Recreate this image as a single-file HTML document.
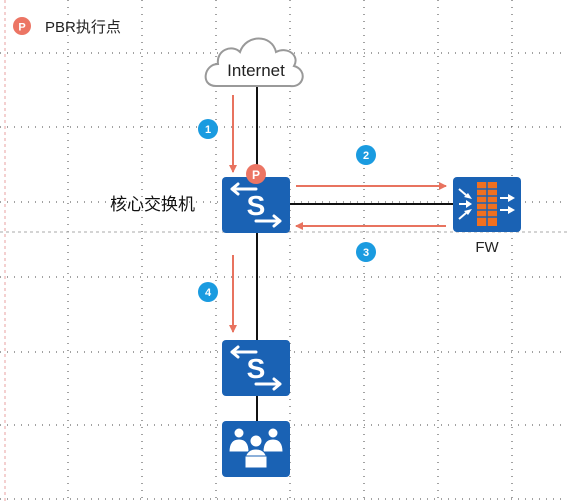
<!DOCTYPE html>
<html><head><meta charset="utf-8"><style>
html,body{margin:0;padding:0;background:#fff;}
svg{display:block;font-family:"Liberation Sans","Noto Sans CJK SC",sans-serif;}
</style></head><body>
<svg width="567" height="502" viewBox="0 0 567 502" xmlns="http://www.w3.org/2000/svg">
<defs>
<marker id="ar" markerWidth="8" markerHeight="8" refX="7" refY="4" orient="auto" markerUnits="userSpaceOnUse"><path d="M0,0 L8,4 L0,8 z" fill="#e8735f"/></marker>
<g id="sw">
<rect x="0" y="0" width="68" height="56" rx="4" fill="#1a62b4"/>
<path d="M10,12 H34 M10,12 l6,-5 M10,12 l6,5" stroke="#fff" stroke-width="3" fill="none" stroke-linecap="round"/>
<path d="M58,44 H34 M58,44 l-6,-5 M58,44 l-6,5" stroke="#fff" stroke-width="3" fill="none" stroke-linecap="round"/>
<text x="34" y="38" font-size="28" font-weight="bold" fill="#fff" text-anchor="middle">S</text>
</g>
</defs>
<!-- grid -->
<g stroke="#444" stroke-width="1" stroke-dasharray="1,6">
<line x1="68" y1="0" x2="68" y2="502"/><line x1="142" y1="0" x2="142" y2="502"/><line x1="216" y1="0" x2="216" y2="502"/><line x1="290" y1="0" x2="290" y2="502"/><line x1="364" y1="0" x2="364" y2="502"/><line x1="438" y1="0" x2="438" y2="502"/><line x1="512" y1="0" x2="512" y2="502"/>
<line x1="0" y1="53" x2="567" y2="53"/><line x1="0" y1="127" x2="567" y2="127"/><line x1="0" y1="202" x2="567" y2="202"/><line x1="0" y1="277" x2="567" y2="277"/><line x1="0" y1="352" x2="567" y2="352"/><line x1="0" y1="425" x2="567" y2="425"/><line x1="0" y1="499" x2="567" y2="499"/>
</g>
<line x1="5" y1="0" x2="5" y2="502" stroke="#e8a0a0" stroke-dasharray="3,3"/>
<line x1="0" y1="232" x2="567" y2="232" stroke="#aaa" stroke-dasharray="3,3"/>
<!-- legend -->
<circle cx="22" cy="26" r="9" fill="#ec7564"/><text x="22" y="30.5" font-size="11" font-weight="bold" fill="#fff" text-anchor="middle">P</text>
<text x="45" y="32" font-size="15" fill="#222">PBR执行点</text>
<!-- lines -->
<line x1="257" y1="85" x2="257" y2="421" stroke="#111" stroke-width="2"/>
<line x1="290" y1="204" x2="453" y2="204" stroke="#111" stroke-width="2"/>
<!-- cloud -->
<path d="M216,86 C200,86 204,64 218,64 C216,50 232,44 240,52 C246,34 272,34 276,52 C288,46 300,56 294,66 C308,70 304,88 290,86 Z" fill="#fff" stroke="#999" stroke-width="2"/>
<text x="256" y="76" font-size="17" fill="#222" text-anchor="middle">Internet</text>
<!-- red arrows -->
<g stroke="#e8735f" stroke-width="2" fill="none">
<line x1="233" y1="95" x2="233" y2="172" marker-end="url(#ar)"/>
<line x1="296" y1="186" x2="446" y2="186" marker-end="url(#ar)"/>
<line x1="446" y1="226" x2="296" y2="226" marker-end="url(#ar)"/>
<line x1="233" y1="255" x2="233" y2="332" marker-end="url(#ar)"/>
</g>
<!-- switches -->
<use href="#sw" x="222" y="177"/>
<use href="#sw" x="222" y="340"/>
<circle cx="256" cy="174" r="10" fill="#ec7564"/><text x="256" y="179" font-size="12" font-weight="bold" fill="#fff" text-anchor="middle">P</text>
<text x="110" y="210" font-size="17" fill="#111">核心交换机</text>
<!-- FW -->
<rect x="453" y="177" width="68" height="55" rx="4" fill="#1a62b4"/>
<g fill="#f07020"><rect x="477" y="182" width="20" height="44"/></g>
<g stroke="#1a62b4" stroke-width="1.5"><line x1="477" y1="189" x2="497" y2="189"/><line x1="477" y1="196" x2="497" y2="196"/><line x1="477" y1="203" x2="497" y2="203"/><line x1="477" y1="210" x2="497" y2="210"/><line x1="477" y1="217" x2="497" y2="217"/><line x1="487" y1="182" x2="487" y2="226"/></g>
<g fill="#fff" stroke="#fff" stroke-width="2">
<line x1="459" y1="204" x2="466" y2="204"/><path d="M472,204 l-6,-4 v8z" stroke="none"/>
<line x1="459" y1="189" x2="466" y2="195"/><path d="M472,199 l-8,-2 4,-4z" stroke="none"/>
<line x1="459" y1="219" x2="466" y2="213"/><path d="M472,209 l-8,2 4,4z" stroke="none"/>
<line x1="500" y1="198" x2="508" y2="198"/><path d="M515,198 l-7,-4 v8z" stroke="none"/>
<line x1="500" y1="210" x2="508" y2="210"/><path d="M515,210 l-7,-4 v8z" stroke="none"/>
</g>
<text x="487" y="252" font-size="15" fill="#222" text-anchor="middle">FW</text>
<!-- users -->
<rect x="222" y="421" width="68" height="56" rx="4" fill="#1a62b4"/>
<g fill="#fff" stroke="#1a62b4" stroke-width="1">
<circle cx="239" cy="433" r="5"/><path d="M229,452 q0,-13 10,-13 q10,0 10,13z"/>
<circle cx="273" cy="433" r="5"/><path d="M263,452 q0,-13 10,-13 q10,0 10,13z"/>
<circle cx="256" cy="441" r="6"/><path d="M244,466 q0,-17 12,-17 q12,0 12,17z"/>
<rect x="245" y="456" width="22" height="12"/>
</g>
<!-- badges -->
<g font-size="11" font-weight="bold" fill="#fff" text-anchor="middle">
<circle cx="208" cy="129" r="10" fill="#1a9be0"/><text x="208" y="133">1</text>
<circle cx="366" cy="155" r="10" fill="#1a9be0"/><text x="366" y="159">2</text>
<circle cx="366" cy="252" r="10" fill="#1a9be0"/><text x="366" y="256">3</text>
<circle cx="208" cy="292" r="10" fill="#1a9be0"/><text x="208" y="296">4</text>
</g>
</svg>
</body></html>
